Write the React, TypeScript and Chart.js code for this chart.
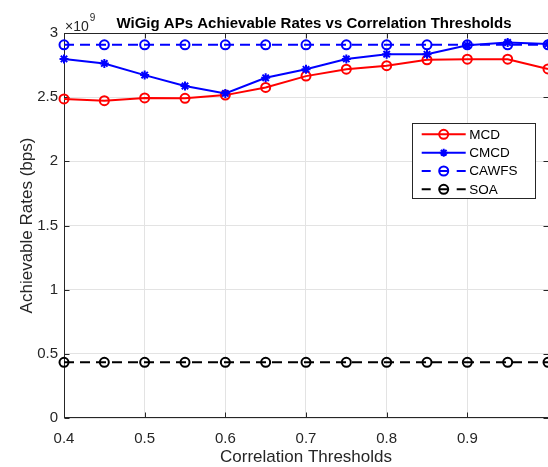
import React, { useEffect, useRef } from "react";
import { Chart, registerables } from "chart.js";

Chart.register(...registerables);

const thresholds = [0.4, 0.45, 0.5, 0.55, 0.6, 0.65, 0.7, 0.75, 0.8, 0.85, 0.9, 0.95, 1.0];
const mcdRates = [2.486e9, 2.473e9, 2.494e9, 2.491e9, 2.516e9, 2.576e9, 2.664e9, 2.718e9, 2.745e9, 2.791e9, 2.796e9, 2.796e9, 2.72e9];
const cmcdRates = [2.798e9, 2.763e9, 2.672e9, 2.587e9, 2.529e9, 2.651e9, 2.717e9, 2.798e9, 2.835e9, 2.834e9, 2.904e9, 2.926e9, 2.915e9];
const cawfsRates = [2.908e9, 2.908e9, 2.908e9, 2.908e9, 2.908e9, 2.908e9, 2.908e9, 2.908e9, 2.908e9, 2.908e9, 2.908e9, 2.908e9, 2.908e9];
const soaRates = [0.434e9, 0.434e9, 0.434e9, 0.434e9, 0.434e9, 0.434e9, 0.434e9, 0.434e9, 0.434e9, 0.434e9, 0.434e9, 0.434e9, 0.434e9];

const seriesNames = ["MCD", "CMCD", "CAWFS", "SOA"];
const titleText = "WiGig APs Achievable Rates vs Correlation Thresholds";
const xTitle = "Correlation Thresholds";
const yTitle = "Achievable Rates (bps)";

const FONT = "'Liberation Sans', Arial, Helvetica, sans-serif";
const AXIS = "#262626";

function pts(vals: number[]) {
  return thresholds.map((x, i) => ({ x, y: vals[i] }));
}

const decorPlugin = {
  id: "decor",
  beforeDatasetsDraw(chart: any) {
    const { ctx, chartArea: a, scales } = chart;
    ctx.save();
    ctx.strokeStyle = AXIS;
    ctx.lineWidth = 1;
    const L = Math.round(a.left) + 0.5;
    const R = Math.round(a.right) + 0.5;
    const T = Math.round(a.top) + 0.5;
    const B = Math.round(a.bottom) - 0.5;
    ctx.strokeRect(L, T, R - L, B - T);
    const tl = 5;
    ctx.beginPath();
    scales.x.ticks.forEach((t: any) => {
      const px = Math.round(scales.x.getPixelForValue(t.value)) + 0.5;
      ctx.moveTo(px, B);
      ctx.lineTo(px, B - tl);
      ctx.moveTo(px, T);
      ctx.lineTo(px, T + tl);
    });
    scales.y.ticks.forEach((t: any) => {
      const py = Math.round(scales.y.getPixelForValue(t.value)) + 0.5;
      ctx.moveTo(L, py);
      ctx.lineTo(L + tl, py);
      ctx.moveTo(R, py);
      ctx.lineTo(R - tl, py);
    });
    ctx.stroke();
    ctx.restore();
  },
  afterDraw(chart: any) {
    const { ctx, chartArea: a } = chart;
    ctx.save();
    // title
    ctx.fillStyle = "#000";
    ctx.font = `bold 15px ${FONT}`;
    ctx.textAlign = "center";
    ctx.textBaseline = "alphabetic";
    ctx.fillText(titleText, 314, 28);
    // exponent
    ctx.fillStyle = AXIS;
    ctx.textAlign = "left";
    ctx.font = `14px ${FONT}`;
    ctx.fillText("\u00d710", 65, 30.5);
    const w = ctx.measureText("\u00d710").width;
    ctx.font = `10px ${FONT}`;
    ctx.fillText("9", 65 + w + 1, 21);
    // axis titles
    ctx.font = `17px ${FONT}`;
    ctx.textAlign = "center";
    ctx.textBaseline = "middle";
    ctx.fillText(xTitle, (a.left + a.right) / 2, 457);
    ctx.save();
    ctx.translate(27, (a.top + a.bottom) / 2);
    ctx.rotate(-Math.PI / 2);
    ctx.fillText(yTitle, 0, 0);
    ctx.restore();
    // legend
    const bx = 412.5, by = 123.5, bw = 123, bh = 75;
    ctx.fillStyle = "#fff";
    ctx.fillRect(bx, by, bw, bh);
    ctx.strokeStyle = AXIS;
    ctx.lineWidth = 1;
    ctx.strokeRect(bx, by, bw, bh);
    const rows = [134.3, 152.7, 171, 189.3];
    const colors = ["#ff0000", "#0000ff", "#0000ff", "#000000"];
    const x0 = 421.7, x1 = 465.7, xm = 443.7;
    rows.forEach((ry, i) => {
      ctx.strokeStyle = colors[i];
      ctx.lineWidth = 2;
      ctx.beginPath();
      if (i < 2) {
        ctx.moveTo(x0, ry);
        ctx.lineTo(x1, ry);
      } else {
        ctx.moveTo(x0, ry);
        ctx.lineTo(x0 + 9, ry);
        ctx.moveTo(xm - 4, ry);
        ctx.lineTo(xm + 4, ry);
        ctx.moveTo(x1 - 9, ry);
        ctx.lineTo(x1, ry);
      }
      ctx.stroke();
      ctx.beginPath();
      if (i === 1) {
        const r = 4;
        ctx.moveTo(xm - r, ry);
        ctx.lineTo(xm + r, ry);
        ctx.moveTo(xm, ry - r);
        ctx.lineTo(xm, ry + r);
        const d = r * 0.7071;
        ctx.moveTo(xm - d, ry - d);
        ctx.lineTo(xm + d, ry + d);
        ctx.moveTo(xm - d, ry + d);
        ctx.lineTo(xm + d, ry - d);
      } else {
        ctx.arc(xm, ry, 4.5, 0, Math.PI * 2);
      }
      ctx.stroke();
      ctx.fillStyle = "#000";
      ctx.font = `13.5px ${FONT}`;
      ctx.textAlign = "left";
      ctx.textBaseline = "middle";
      ctx.fillText(seriesNames[i], 469.3, ry + 0.5);
    });
    ctx.restore();
  },
};

export default function App() {
  const ref = useRef<HTMLCanvasElement>(null);
  useEffect(() => {
    document.body.style.margin = "0";
    document.body.style.overflow = "hidden";
    const canvas = ref.current!;
    const chart = new Chart(canvas, {
      type: "line",
      data: {
        datasets: [
          {
            label: seriesNames[0],
            data: pts(mcdRates),
            borderColor: "#ff0000",
            backgroundColor: "transparent",
            borderWidth: 2,
            pointStyle: "circle",
            pointRadius: 4.5,
            pointBorderWidth: 2,
            pointBorderColor: "#ff0000",
            pointBackgroundColor: "transparent",
            clip: false as any,
            order: 4,
          },
          {
            label: seriesNames[1],
            data: pts(cmcdRates),
            borderColor: "#0000ff",
            backgroundColor: "transparent",
            borderWidth: 2,
            pointStyle: "star",
            pointRadius: 4.5,
            pointBorderWidth: 2,
            pointBorderColor: "#0000ff",
            pointBackgroundColor: "#0000ff",
            clip: false as any,
            order: 3,
          },
          {
            label: seriesNames[2],
            data: pts(cawfsRates),
            borderColor: "#0000ff",
            backgroundColor: "transparent",
            borderWidth: 2,
            borderDash: [10, 6],
            pointStyle: "circle",
            pointRadius: 4.5,
            pointBorderWidth: 2,
            pointBorderColor: "#0000ff",
            pointBackgroundColor: "transparent",
            clip: false as any,
            order: 2,
          },
          {
            label: seriesNames[3],
            data: pts(soaRates),
            borderColor: "#000000",
            backgroundColor: "transparent",
            borderWidth: 2,
            borderDash: [10, 6],
            pointStyle: "circle",
            pointRadius: 4.5,
            pointBorderWidth: 2,
            pointBorderColor: "#000000",
            pointBackgroundColor: "transparent",
            clip: false as any,
            order: 1,
          },
        ],
      },
      options: {
        responsive: false,
        animation: false,
        devicePixelRatio: 1,
        layout: { padding: { left: 0, right: 9, top: 33, bottom: 0 } },
        plugins: {
          legend: { display: false },
          title: { display: false },
          tooltip: { enabled: false },
        },
        elements: { line: { tension: 0 } },
        scales: {
          x: {
            type: "linear",
            min: 0.4,
            max: 1.0,
            afterFit: (s: any) => {
              s.height = 49;
            },
            ticks: {
              stepSize: 0.1,
              padding: 12,
              color: AXIS,
              font: { family: FONT, size: 15 },
              maxRotation: 0,
              autoSkip: false,
              callback: (v: any) => (Math.abs(Number(v) - 1) < 1e-6 ? "" : Number(v).toFixed(1)),
            },
            grid: { color: "#e3e3e3", drawTicks: false },
            border: { display: false },
          },
          y: {
            type: "linear",
            min: 0,
            max: 3e9,
            afterFit: (s: any) => {
              s.width = 64;
            },
            ticks: {
              stepSize: 0.5e9,
              padding: 6,
              color: AXIS,
              font: { family: FONT, size: 15 },
              callback: (v: any) => String(Math.round(Number(v) / 1e8) / 10),
            },
            grid: { color: "#e3e3e3", drawTicks: false },
            border: { display: false },
          },
        },
      },
      plugins: [decorPlugin],
    } as any);
    return () => chart.destroy();
  }, []);
  return (
    <div style={{ position: "fixed", left: 0, top: 0, width: 548, height: 467, overflow: "hidden", background: "#fff" }}>
      <canvas ref={ref} width={560} height={467} style={{ width: 560, height: 467, display: "block" }} />
    </div>
  );
}
